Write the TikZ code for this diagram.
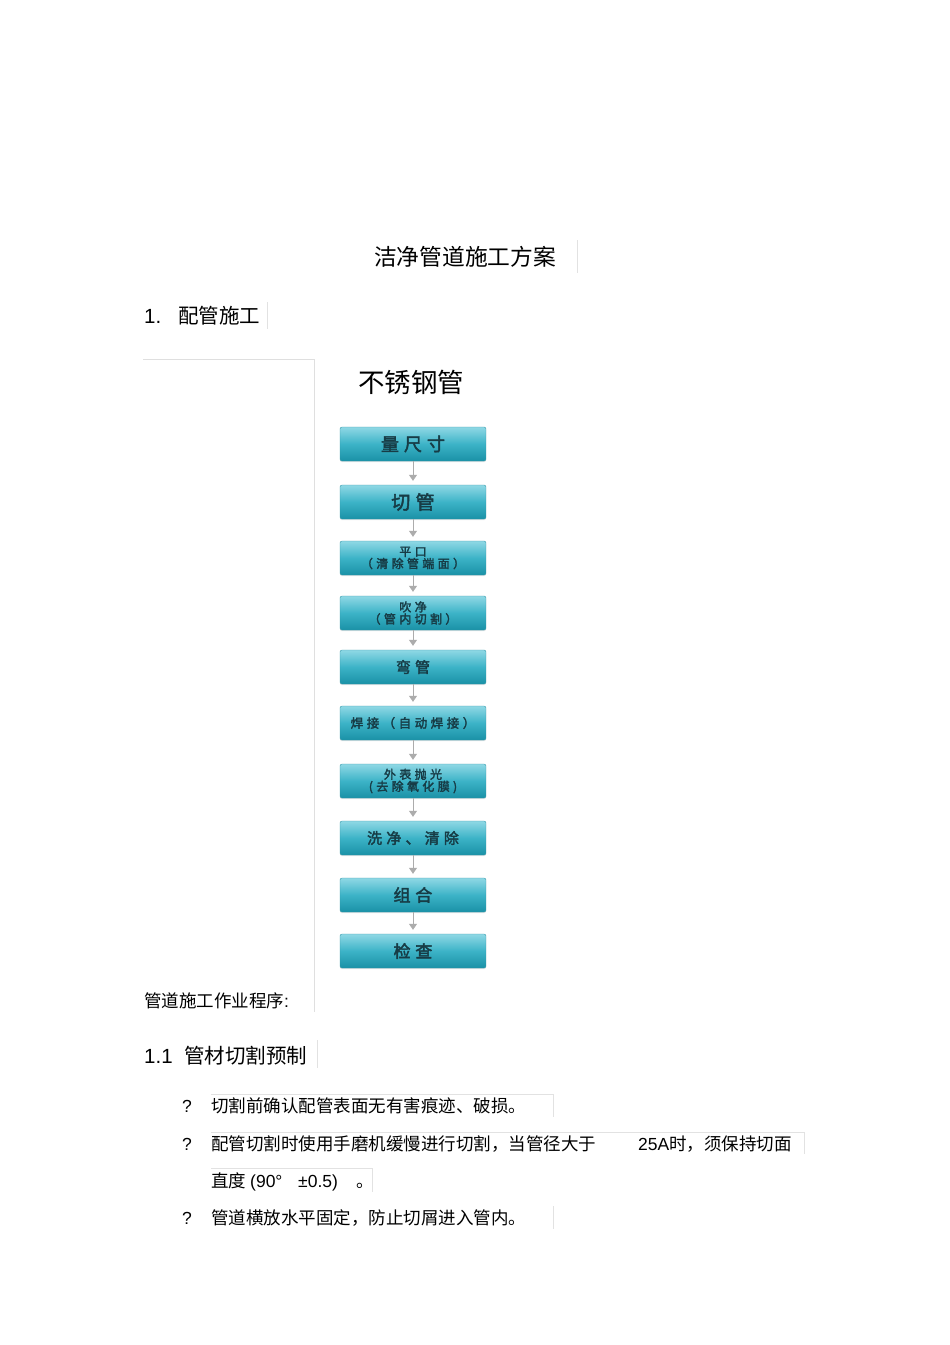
\documentclass[tikz,border=0pt]{standalone}
\usepackage{fontspec}
\setmainfont{Liberation Sans}
\newfontfamily\cjk{Noto Sans CJK SC}
\newfontfamily\boxfont[FakeBold=2.5,LetterSpace=28]{Noto Sans CJK SC}
\usetikzlibrary{arrows.meta,shadows}
\definecolor{boxtop}{HTML}{8FD8E5}
\definecolor{boxmid}{HTML}{3CB3C7}
\definecolor{boxbot}{HTML}{1A91A6}
\definecolor{steptext}{HTML}{173C46}
\definecolor{faint}{HTML}{E2E2E2}
\tikzset{
  stepbox/.style={rectangle, rounded corners=2pt, minimum width=146pt, minimum height=34pt,
    inner sep=0pt, top color=boxtop, bottom color=boxbot, middle color=boxmid,
    draw=boxmid!85!black, line width=0.4pt, text=steptext, align=center,
    drop shadow={opacity=0.2, shadow xshift=0pt, shadow yshift=-1.2pt}},
  stepfont/.style={font=\boxfont\fontsize{#1}{#1}\selectfont},
  flowarrow/.style={draw=gray!65, line width=0.8pt, -{Triangle[width=8pt,length=6pt]}, shorten >=4pt},
  body/.style={anchor=base west, inner sep=0pt, font=\fontsize{17.5}{21}\selectfont},
  head/.style={anchor=base west, inner sep=0pt, font=\fontsize{20.5}{24}\selectfont},
  faintline/.style={draw=faint, line width=0.7pt}
}
\begin{document}
\begin{tikzpicture}[x=1pt,y=-1pt]
      \fill[white] (0,0) rectangle (950,1345);
      % faint frame lines
      \draw[faintline] (577,240) -- (577,273);
      \draw[faintline] (267,302) -- (267,329);
      \draw[faintline, draw=gray!25] (143,359) -- (314,359) -- (314,1012);
      \draw[faintline] (317,1040) -- (317,1068);
      \draw[faintline] (211,1094) -- (553,1094) -- (553,1117);
      \draw[faintline] (211,1132) -- (804,1132) -- (804,1154);
      \draw[faintline] (211,1168) -- (372,1168) -- (372,1192);
      \draw[faintline] (553,1206) -- (553,1229);
      % texts
      \draw
        (374,265) node[anchor=base west, inner sep=0pt, font=\cjk\fontsize{22.75}{26}\selectfont] (title){洁净管道施工方案}
        (144,323) node[head] (secnum){1.}
        (178,323) node[head, font=\cjk\fontsize{20.5}{24}\selectfont] (sec){配管施工}
        (358,392) node[anchor=base west, inner sep=0pt, font=\cjk\fontsize{26.5}{30}\selectfont] (pipe){不锈钢管}
        (144,1007) node[body] (proc){{\cjk 管道施工作业程序}:}
        (144,1063) node[head] (subnum){1.1}
        (184,1063) node[head, font=\cjk\fontsize{20.5}{24}\selectfont] (sub){管材切割预制}
        (182,1112) node[body] (q1){?}
        (211,1112) node[body] (item1){\cjk 切割前确认配管表面无有害痕迹、破损。}
        (182,1150) node[body] (q2){?}
        (211,1150) node[body] (item2){\cjk 配管切割时使用手磨机缓慢进行切割，当管径大于}
        (638,1150) node[body] (item2b){25A{\cjk 时，须保持切面}}
        (211,1187) node[body] (item3){\cjk 直度}
        (250,1187) node[body] (item3b){(90°}
        (298,1187) node[body] (item3c){±0.5)}
        (356,1187) node[body] (item3d){\cjk 。}
        (182,1224) node[body] (q4){?}
        (211,1224) node[body] (item4){\cjk 管道横放水平固定，防止切屑进入管内。};
      % flow boxes
      \draw
        (413,444) node[stepbox, stepfont=18] (measure){量尺寸}
        (413,502) node[stepbox, stepfont=19] (cut){切管}
        (413,558) node[stepbox, stepfont=12] (flat){平口\\（清除管端面）}
        (413,613) node[stepbox, stepfont=12] (blow){吹净\\（管内切割）}
        (413,667) node[stepbox, stepfont=15] (bend){弯管}
        (413,723) node[stepbox, stepfont=12.5] (weld){焊接（自动焊接）}
        (413,781) node[stepbox, stepfont=12] (polish){外表抛光\\(去除氧化膜)}
        (413,838) node[stepbox, stepfont=15] (wash){洗净、清除}
        (413,895) node[stepbox, stepfont=17] (assemble){组合}
        (413,951) node[stepbox, stepfont=17] (check){检查};
      \begin{scope}[flowarrow]
        \draw (measure) to (cut);
        \draw (cut) to (flat);
        \draw (flat) to (blow);
        \draw (blow) to (bend);
        \draw (bend) to (weld);
        \draw (weld) to (polish);
        \draw (polish) to (wash);
        \draw (wash) to (assemble);
        \draw (assemble) to (check);
      \end{scope}
    \end{tikzpicture}
\end{document}
